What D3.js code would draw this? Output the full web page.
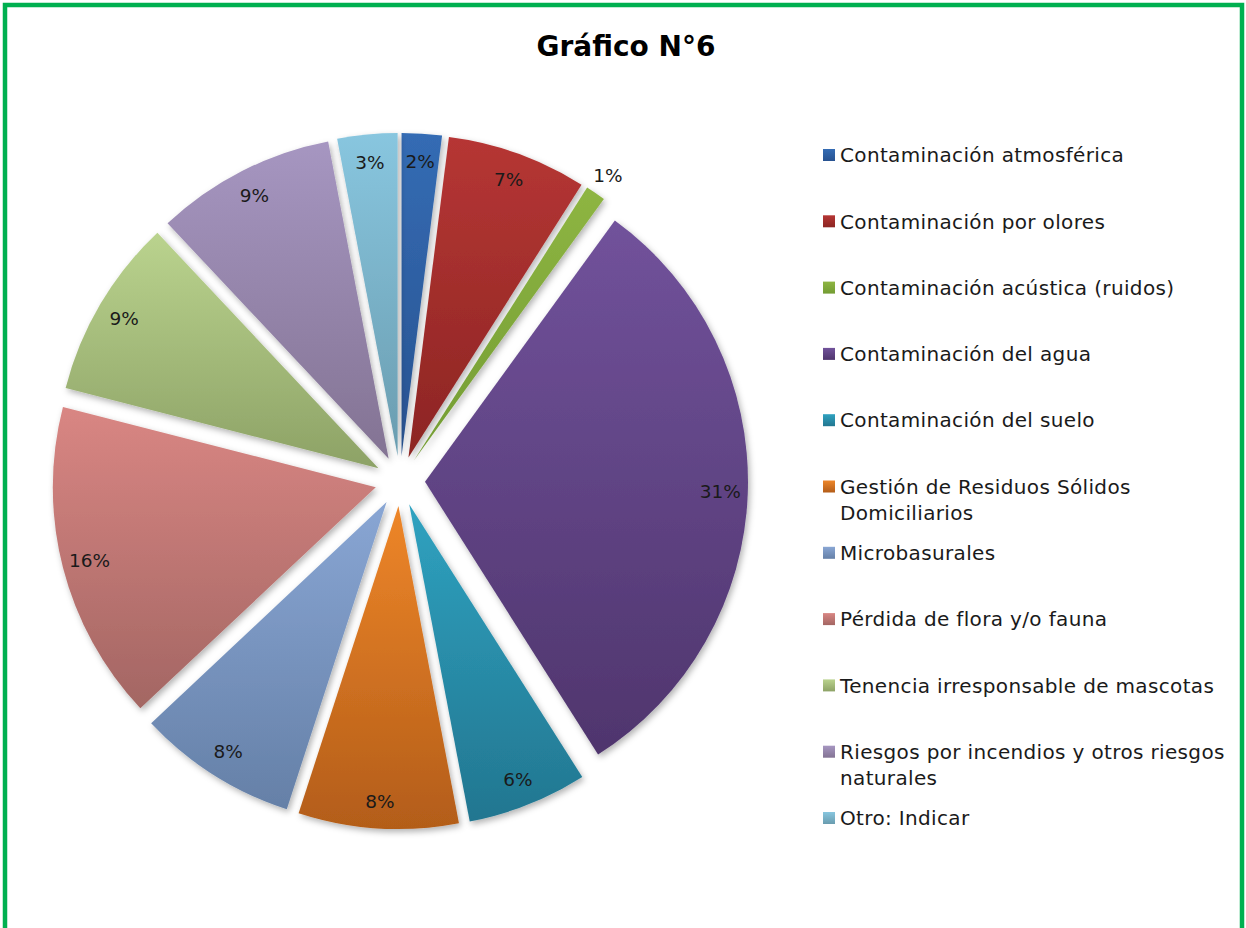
<!DOCTYPE html>
<html>
<head>
<meta charset="utf-8">
<script src="https://cdn.jsdelivr.net/npm/d3@7"></script>
<style>
  html, body { margin: 0; padding: 0; background: #fff; }
  svg { display: block; }
  text { font-family: "DejaVu Sans", sans-serif; fill: #1a1a1a; }
</style>
</head>
<body>
<div id="chart"></div>
<script>
const categories = [
    "Contaminación atmosférica",
    "Contaminación por olores",
    "Contaminación acústica (ruidos)",
    "Contaminación del agua",
    "Contaminación del suelo",
    "Gestión de Residuos Sólidos Domiciliarios",
    "Microbasurales",
    "Pérdida de flora y/o fauna",
    "Tenencia irresponsable de mascotas",
    "Riesgos por incendios y otros riesgos naturales",
    "Otro: Indicar"
];
const values = [2, 7, 1, 31, 6, 8, 8, 16, 9, 9, 3];
const topColors = ["#346CB4", "#B63634", "#8EB542", "#71529B", "#2FA2C0", "#EE8629",
                   "#89A6D4", "#D98683", "#BAD38E", "#A696C1", "#88C6DF"];
const bottomColors = ["#285290", "#8C2523", "#739C33", "#4F356D", "#227690", "#B35D19",
                      "#6580A7", "#A36663", "#8DA266", "#837393", "#6A9CAF"];

const W = 1246, H = 928;
const cx = 400, cy = 481, R = 323, explode = 25;

const svg = d3.select("#chart").append("svg")
    .attr("width", W)
    .attr("height", H);

const defs = svg.append("defs");

// soft shadow under the slices
const shadow = defs.append("filter")
    .attr("id", "shadow")
    .attr("x", "-20%").attr("y", "-20%")
    .attr("width", "140%").attr("height", "140%");
shadow.append("feDropShadow")
    .attr("dx", 2).attr("dy", 3)
    .attr("stdDeviation", 3)
    .attr("flood-color", "#000")
    .attr("flood-opacity", 0.3);

categories.forEach((c, i) => {
    const g = defs.append("linearGradient")
        .attr("id", "grad" + i)
        .attr("x1", 0).attr("y1", 0)
        .attr("x2", 0).attr("y2", 1);
    g.append("stop").attr("offset", "0%").attr("stop-color", topColors[i]);
    g.append("stop").attr("offset", "100%").attr("stop-color", bottomColors[i]);
});

// green frame, bottom edge falls outside the picture
svg.append("rect")
    .attr("x", 5).attr("y", 5)
    .attr("width", W - 9).attr("height", H + 20)
    .attr("fill", "none")
    .attr("stroke", "#00B050")
    .attr("stroke-width", 4.5);

svg.append("text")
    .attr("x", 626)
    .attr("y", 56)
    .attr("text-anchor", "middle")
    .style("font-size", "28px")
    .style("font-weight", "bold")
    .style("fill", "#000")
    .text("Gráfico N°6");

const pie = d3.pie().sort(null).value(d => d.value);
const arcs = pie(categories.map((c, i) => ({ name: c, value: values[i], i })));

const arc = d3.arc().innerRadius(0).outerRadius(R);
const labelArc = d3.arc().innerRadius(R * 0.915).outerRadius(R * 0.915);
const outerLabelArc = d3.arc().innerRadius(R + 22).outerRadius(R + 22);

function offset(d) {
    const a = (d.startAngle + d.endAngle) / 2;
    return [explode * Math.sin(a), -explode * Math.cos(a)];
}

const pieG = svg.append("g")
    .attr("transform", `translate(${cx},${cy})`);

pieG.selectAll(".slice")
    .data(arcs)
    .enter().append("path")
    .attr("class", "slice")
    .attr("transform", d => `translate(${offset(d)})`)
    .attr("d", arc)
    .attr("fill", d => `url(#grad${d.data.i})`)
    .attr("filter", "url(#shadow)");

pieG.selectAll(".label")
    .data(arcs)
    .enter().append("text")
    .attr("class", "label")
    .attr("transform", d => {
        const o = offset(d);
        const p = d.data.value < 2 ? outerLabelArc.centroid(d) : labelArc.centroid(d);
        return `translate(${o[0] + p[0]},${o[1] + p[1]})`;
    })
    .attr("text-anchor", "middle")
    .attr("dy", "0.36em")
    .style("font-size", "18.5px")
    .text(d => d.data.value + "%");

// legend
const legendY = d3.scalePoint()
    .domain(categories)
    .range([155, 818]);

const legend = svg.append("g").attr("class", "legend");
const maxTextWidth = 400;

categories.forEach((c, i) => {
    const g = legend.append("g")
        .attr("transform", `translate(823,${legendY(c)})`);
    g.append("rect")
        .attr("x", 0).attr("y", -6)
        .attr("width", 12).attr("height", 12)
        .attr("fill", `url(#grad${i})`);

    const t = g.append("text")
        .attr("x", 17)
        .attr("y", 0)
        .style("font-size", "20px")
        .style("letter-spacing", "0.35px");

    // wrap long names the way the legend does
    const words = c.split(" ");
    let line = [];
    let tspan = t.append("tspan").attr("x", 17).attr("dy", "0.36em");
    words.forEach(w => {
        line.push(w);
        tspan.text(line.join(" "));
        if (tspan.node().getComputedTextLength() > maxTextWidth && line.length > 1) {
            line.pop();
            tspan.text(line.join(" "));
            line = [w];
            tspan = t.append("tspan").attr("x", 17).attr("dy", "26px").text(w);
        }
    });
});
</script>
</body>
</html>
